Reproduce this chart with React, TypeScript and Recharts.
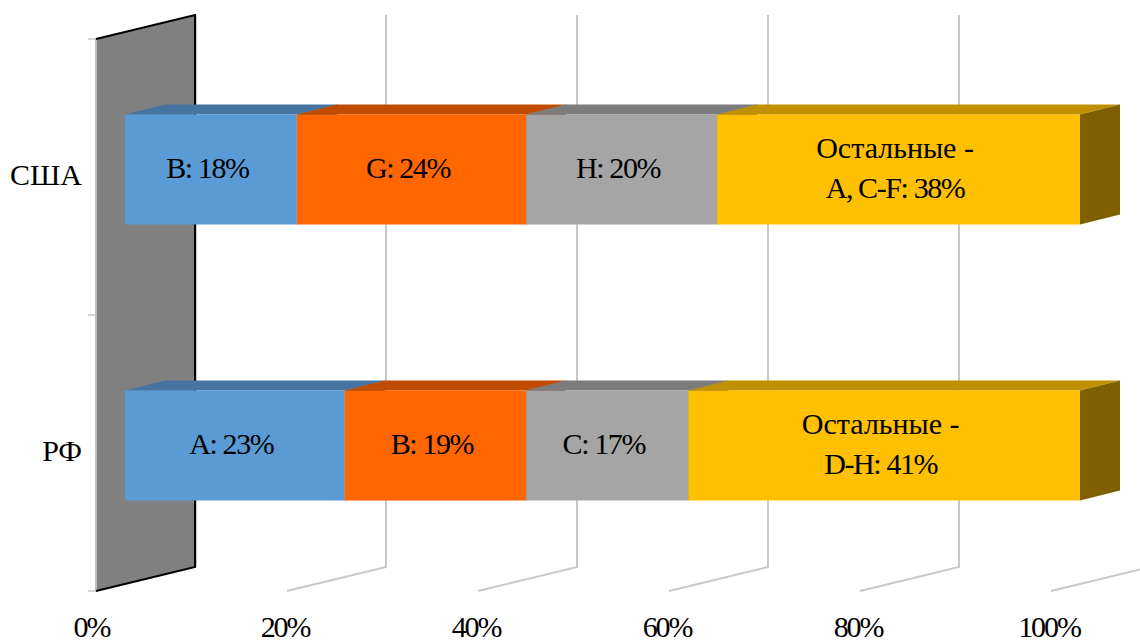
import { BarChart, Bar, XAxis, YAxis, CartesianGrid, LabelList } from 'recharts';

const FONT = '"Liberation Serif", serif';
const FONT_SIZE = 30;

const countries = ['США', 'РФ'];
const xTicks = [0, 20, 40, 60, 80, 100];

const firstValues = [18, 23];
const secondValues = [24, 19];
const thirdValues = [20, 17];
const restValues = [38, 41];

const firstLabels = ['B: 18%', 'A: 23%'];
const secondLabels = ['G: 24%', 'B: 19%'];
const thirdLabels = ['H: 20%', 'C: 17%'];
const restLabels = ['Остальные -\nA, C-F: 38%', 'Остальные -\nD-H: 41%'];

const rows = countries.map((name, i) => ({
  name,
  first: firstValues[i],
  second: secondValues[i],
  third: thirdValues[i],
  rest: restValues[i],
  firstLabel: firstLabels[i],
  secondLabel: secondLabels[i],
  thirdLabel: thirdLabels[i],
  restLabel: restLabels[i],
}));

// fake 3d offsets
const WALL_DX = 99;
const WALL_DY = 24;
const BAR_SHIFT_X = 29;
const BAR_SHIFT_Y = -7.5;
const BOX_DX = 40;
const BOX_DY = 10;

const makeBox = (front: string, top: string, side: string) => (props: any) => {
  const x = props.x + BAR_SHIFT_X;
  const y = props.y + BAR_SHIFT_Y;
  const { width: w, height: h } = props;
  return (
    <g>
      <polygon points={`${x},${y} ${x + BOX_DX},${y - BOX_DY} ${x + w + BOX_DX},${y - BOX_DY} ${x + w},${y}`} fill={top} />
      <polygon points={`${x + w},${y} ${x + w + BOX_DX},${y - BOX_DY} ${x + w + BOX_DX},${y + h - BOX_DY} ${x + w},${y + h}`} fill={side} />
      <rect x={x} y={y} width={w} height={h} fill={front} />
    </g>
  );
};

// latin and digits sit tighter than cyrillic in the original
const lineSpacing = (line: string) => (/[а-яА-Я]/.test(line) ? 0 : -1.4);

const renderLabel = (props: any) => {
  const lines = String(props.value).split('\n');
  const cx = props.x + BAR_SHIFT_X + props.width / 2 - 3.5;
  const cy = props.y + BAR_SHIFT_Y + props.height / 2 + 8;
  const start = cy - ((lines.length - 1) * 40) / 2;
  return (
    <text textAnchor="middle" fontFamily={FONT} fontSize={FONT_SIZE} fill="#000">
      {lines.map((line, i) => (
        <tspan key={i} x={cx} y={start + i * 40} letterSpacing={lineSpacing(line)}>{line}</tspan>
      ))}
    </text>
  );
};

const renderGridLine = (props: any) => {
  const { x1: x, y1, y2 } = props;
  const top = Math.min(y1, y2);
  const bottom = Math.max(y1, y2);
  if (x < 100) {
    const mid = (top + bottom) / 2;
    return (
      <g key={props.key}>
        {[top, mid, bottom].map((t) => (
          <line key={t} x1={x - 8} x2={x} y1={t} y2={t} stroke="#c8c8c8" strokeWidth={1.5} />
        ))}
        <polygon points={`${x},${top} ${x + WALL_DX},${top - WALL_DY} ${x + WALL_DX},${bottom - WALL_DY} ${x},${bottom}`} fill="#808080" />
        <line x1={x} x2={x} y1={top} y2={bottom} stroke="#bfbfbf" strokeWidth={2} />
        <line x1={x + WALL_DX + 1} x2={x + WALL_DX + 1} y1={top - WALL_DY} y2={bottom - WALL_DY} stroke="#c8c8c8" strokeWidth={2} />
        <polyline
          points={`${x},${top} ${x + WALL_DX},${top - WALL_DY} ${x + WALL_DX},${bottom - WALL_DY} ${x},${bottom}`}
          fill="none"
          stroke="#000"
          strokeWidth={2}
        />
      </g>
    );
  }
  return (
    <polyline
      key={props.key}
      points={`${x},${bottom} ${x + WALL_DX},${bottom - WALL_DY} ${x + WALL_DX},${top - WALL_DY}`}
      fill="none"
      stroke="#c8c8c8"
      strokeWidth={2}
    />
  );
};

const renderXTick = (props: any) => {
  const { x, payload } = props;
  return (
    <text x={payload.value === 0 ? x - 4.5 : x - 2} y={637} textAnchor="middle" fontFamily={FONT} fontSize={FONT_SIZE} letterSpacing={-2.1} fill="#000">
      {payload.value}%
    </text>
  );
};

const renderYTick = (props: any) => {
  const { y, payload } = props;
  return (
    <text x={82} y={y + 8} textAnchor="end" fontFamily={FONT} fontSize={FONT_SIZE} fill="#000">
      {payload.value}
    </text>
  );
};

export default function App() {
  return (
    <div style={{ position: 'absolute', left: 0, top: 0, width: 1140, height: 641, background: '#fff' }}>
      <BarChart
        width={1140}
        height={641}
        data={rows}
        layout="vertical"
        barSize={110}
        margin={{ top: 39, right: 89, bottom: 0, left: 0 }}
      >
        <CartesianGrid horizontal={false} vertical={renderGridLine} />
        <XAxis type="number" domain={[0, 100]} ticks={xTicks} height={50} axisLine={false} tickLine={false} tick={renderXTick} interval={0} />
        <YAxis type="category" dataKey="name" width={96} axisLine={false} tickLine={false} tick={renderYTick} />
        <Bar dataKey="first" stackId="a" fill="#5B9BD5" isAnimationActive={false} shape={makeBox('#5B9BD5', '#44749F', '#2E4E6B')}>
          <LabelList dataKey="firstLabel" content={renderLabel} />
        </Bar>
        <Bar dataKey="second" stackId="a" fill="#FF6600" isAnimationActive={false} shape={makeBox('#FF6600', '#BF4C00', '#7F3300')}>
          <LabelList dataKey="secondLabel" content={renderLabel} />
        </Bar>
        <Bar dataKey="third" stackId="a" fill="#A5A5A5" isAnimationActive={false} shape={makeBox('#A5A5A5', '#7C7C7C', '#525252')}>
          <LabelList dataKey="thirdLabel" content={renderLabel} />
        </Bar>
        <Bar dataKey="rest" stackId="a" fill="#FFC000" isAnimationActive={false} shape={makeBox('#FFC000', '#BF9000', '#7F6000')}>
          <LabelList dataKey="restLabel" content={renderLabel} />
        </Bar>
      </BarChart>
    </div>
  );
}
